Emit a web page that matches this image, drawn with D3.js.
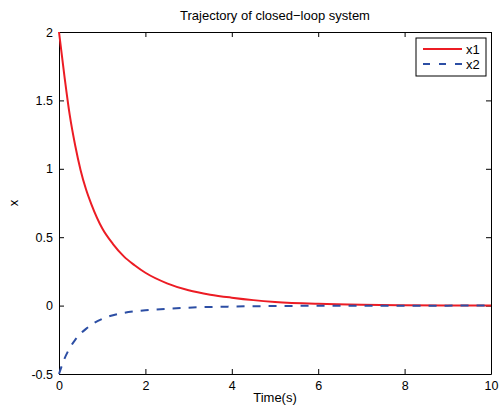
<!DOCTYPE html>
<html>
<head>
<meta charset="utf-8">
<script src="https://cdn.jsdelivr.net/npm/d3@7"></script>
<style>
body{margin:0;background:#fff;}
svg{display:block;font-family:"Liberation Sans",Arial,Helvetica,sans-serif;}
</style>
</head>
<body>
<div id="chart"></div>
<script>
const title = "Trajectory of closed\u2212loop system";
const xLabel = "Time(s)";
const yLabel = "x";
const xTicks = [0, 2, 4, 6, 8, 10];
const yTicks = [-0.5, 0, 0.5, 1, 1.5, 2];
const seriesNames = ["x1", "x2"];
const time = [0, 0.125, 0.25, 0.375, 0.5, 0.625, 0.75, 1.0, 1.25, 1.5, 1.75, 2.0, 2.5, 3.0, 3.5, 4.0, 4.5, 5.0, 6.0, 7.0, 8.0, 9.0, 10.0];
const x1 = [2.0, 1.68, 1.39, 1.17, 0.99, 0.85, 0.74, 0.565, 0.45, 0.36, 0.295, 0.24, 0.163, 0.112, 0.08, 0.058, 0.04, 0.027, 0.013, 0.006, 0.003, 0.0015, 0.0008];
const x2 = [-0.5, -0.39, -0.31, -0.25, -0.205, -0.17, -0.14, -0.097, -0.07, -0.053, -0.042, -0.034, -0.023, -0.015, -0.01, -0.007, -0.0045, -0.003, -0.0015, -0.0008, -0.0005, -0.0002, 0];

const W = 499, H = 411;
const m = {left: 59, right: 8, top: 32, bottom: 37};
const svg = d3.select("#chart").append("svg").attr("width", W).attr("height", H);
const x = d3.scaleLinear().domain([0, 10]).range([m.left, W - m.right]);
const y = d3.scaleLinear().domain([-0.5, 2]).range([H - m.bottom, m.top]);

const fs = 13;
const tfs = 12.5;
// axes
const gB = svg.append("g").attr("transform", `translate(0,${H - m.bottom})`)
  .call(d3.axisBottom(x).tickValues(xTicks).tickSizeInner(-5).tickSizeOuter(0).tickPadding(7).tickFormat(d3.format("d")));
const gT = svg.append("g").attr("transform", `translate(0,${m.top})`)
  .call(d3.axisTop(x).tickValues(xTicks).tickSizeInner(-5).tickSizeOuter(0).tickFormat(""));
const gL = svg.append("g").attr("transform", `translate(${m.left},0)`)
  .call(d3.axisLeft(y).tickValues(yTicks).tickSizeInner(-5).tickSizeOuter(0).tickPadding(6).tickFormat(d => String(d)));
const gR = svg.append("g").attr("transform", `translate(${W - m.right},0)`)
  .call(d3.axisRight(y).tickValues(yTicks).tickSizeInner(-5).tickSizeOuter(0).tickFormat(""));
[gB, gT, gL, gR].forEach(g => {
  g.selectAll("text").attr("font-size", tfs).attr("fill", "#000").attr("font-family", "Liberation Sans, Arial, sans-serif");
  g.selectAll("path.domain").attr("stroke", "#000").attr("stroke-width", 1);
  g.selectAll(".tick line").attr("stroke", "#000").attr("stroke-width", 1);
  g.attr("font-size", tfs);
});

// lines
const line = (ys) => d3.line().x((d, i) => x(time[i])).y(d => y(d)).curve(d3.curveMonotoneX)(ys);
svg.append("path").attr("d", line(x1)).attr("fill", "none").attr("stroke", "#ec1c24").attr("stroke-width", 2);
svg.append("path").attr("d", line(x2)).attr("fill", "none").attr("stroke", "#2c4ea4").attr("stroke-width", 2).attr("stroke-dasharray", "8,8");

// title & labels
svg.append("text").attr("x", (m.left + W - m.right) / 2).attr("y", 20).attr("text-anchor", "middle").attr("font-size", fs).text(title);
svg.append("text").attr("x", (m.left + W - m.right) / 2).attr("y", 402).attr("text-anchor", "middle").attr("font-size", fs).text(xLabel);
svg.append("text").attr("transform", `translate(18,${(m.top + H - m.bottom) / 2}) rotate(-90)`).attr("text-anchor", "middle").attr("font-size", fs).text(yLabel);

// legend
const lg = svg.append("g").attr("transform", "translate(416,38)");
lg.append("rect").attr("width", 70).attr("height", 38).attr("fill", "#fff").attr("stroke", "#000").attr("stroke-width", 1);
const colors = ["#ec1c24", "#2c4ea4"];
const dashes = [null, "7,9"];
seriesNames.forEach((n, i) => {
  const yy = 11 + i * 15;
  lg.append("line").attr("x1", 7).attr("x2", 46).attr("y1", yy).attr("y2", yy)
    .attr("stroke", colors[i]).attr("stroke-width", 2).attr("stroke-dasharray", dashes[i]);
  lg.append("text").attr("x", 50).attr("y", yy + 4.5).attr("font-size", fs).text(n);
});
</script>
</body>
</html>
